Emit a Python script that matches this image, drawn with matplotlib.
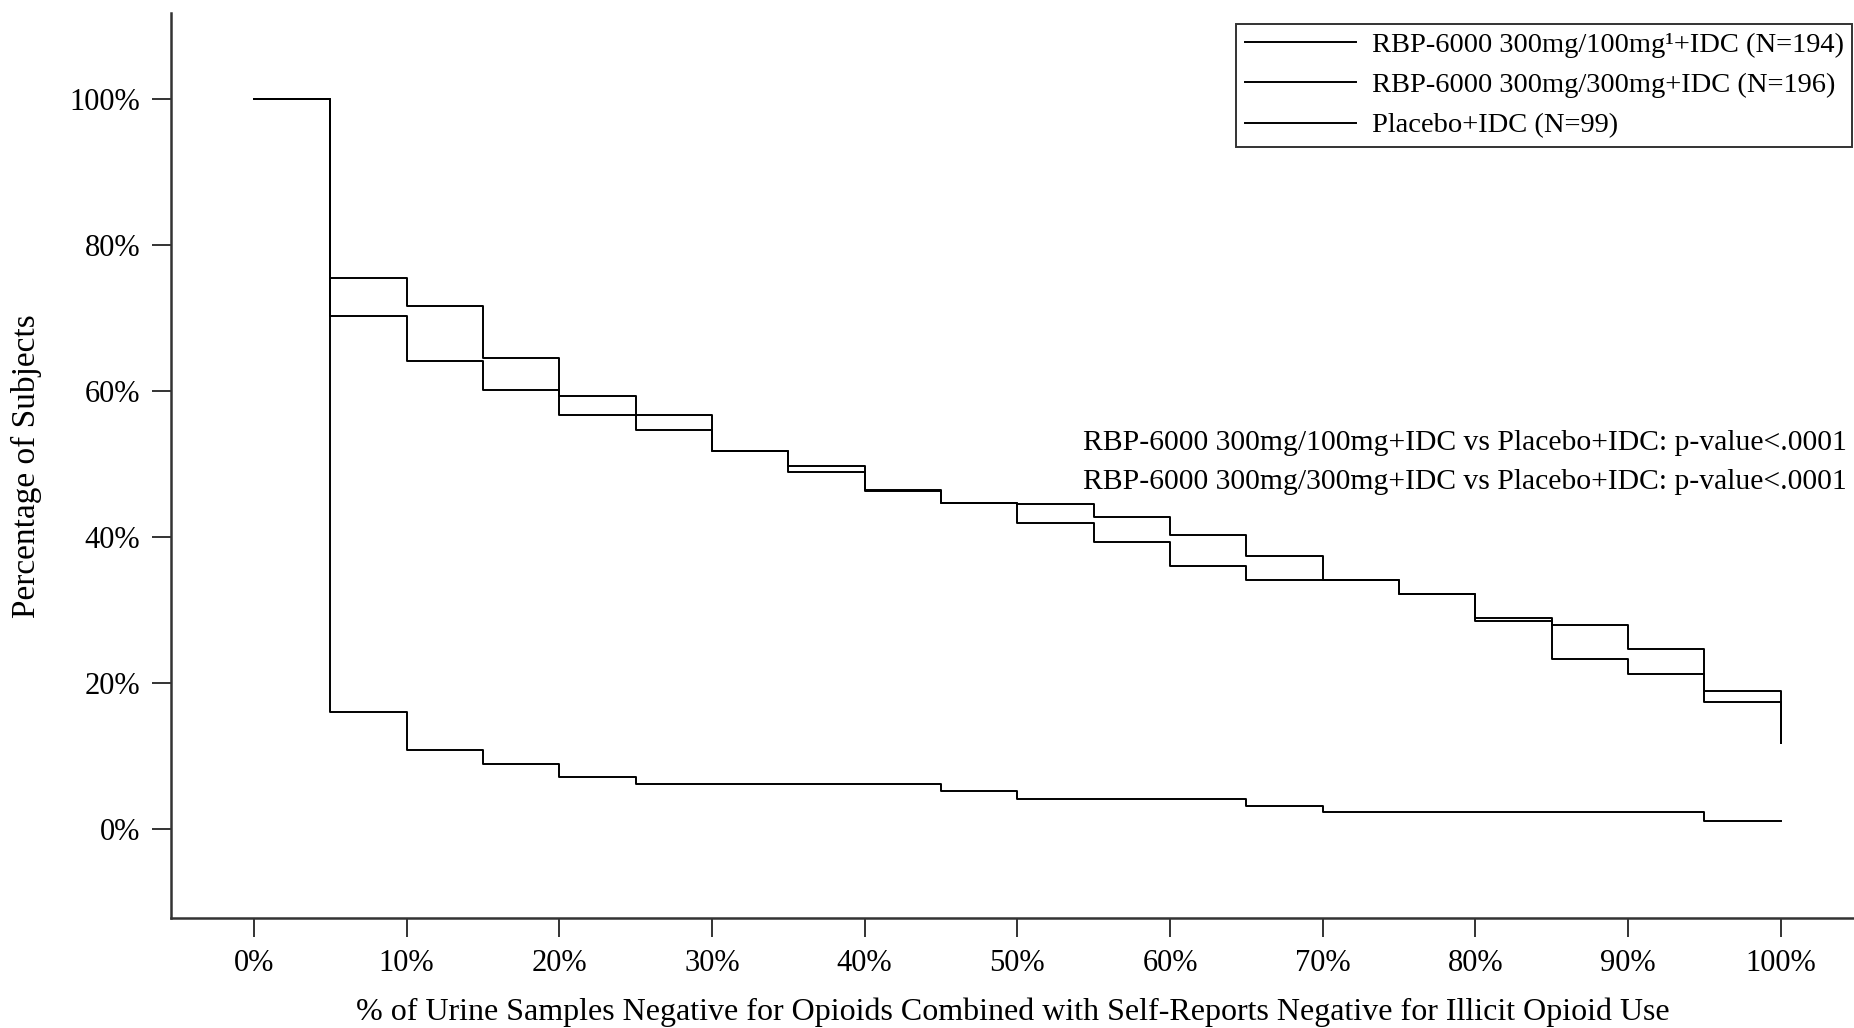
import numpy as np
import matplotlib
matplotlib.use("Agg")
import matplotlib.pyplot as plt

plt.rcParams['font.family'] = ['Liberation Serif', 'DejaVu Serif']

# percent of negative samples (step start points)
pct_neg = [0, 5, 10, 15, 20, 25, 30, 35, 40, 45, 50,
           55, 60, 65, 70, 75, 80, 85, 90, 95, 100]

# percentage of subjects at or above each threshold
rbp_100 = [100, 75.5, 71.7, 64.6, 59.3, 56.8, 51.8, 49.8, 46.5, 44.7, 44.6,
           42.8, 40.3, 37.4, 34.2, 32.3, 29.0, 28.0, 24.7, 18.9, 11.8]
rbp_300 = [100, 70.3, 64.1, 60.2, 56.8, 54.7, 51.8, 48.9, 46.3, 44.7, 42.0,
           39.4, 36.1, 34.2, 34.2, 32.3, 28.5, 23.3, 21.3, 17.5, 11.8]
placebo = [100, 16.1, 10.9, 9.0, 7.1, 6.2, 6.2, 6.2, 6.2, 5.2, 4.2,
           4.2, 4.2, 3.2, 2.3, 2.3, 2.3, 2.3, 2.3, 1.1, 1.1]

labels = ['RBP-6000 300mg/100mg\u00b9+IDC (N=194)',
          'RBP-6000 300mg/300mg+IDC (N=196)',
          'Placebo+IDC (N=99)']
pvals = ['RBP-6000 300mg/100mg+IDC vs Placebo+IDC: p-value<.0001',
         'RBP-6000 300mg/300mg+IDC vs Placebo+IDC: p-value<.0001']

xticks = np.arange(0, 101, 10)
yticks = np.arange(0, 101, 20)

fig = plt.figure(figsize=(18.54, 10.28), dpi=100)
ax = fig.add_axes([0.0921, 0.1067, 0.9079, 0.8804])

lw = 1.4
ax.step(pct_neg, rbp_100, where='post', color='black', lw=lw, label=labels[0])
ax.step(pct_neg, rbp_300, where='post', color='black', lw=lw, label=labels[1])
ax.step(pct_neg, placebo, where='post', color='black', lw=lw, label=labels[2])

ax.set_xlim(-5.45, 104.8)
ax.set_ylim(-12.2, 111.8)
ax.set_xticks(xticks)
ax.set_xticklabels([f'{v}%' for v in xticks])
ax.set_yticks(yticks)
ax.set_yticklabels([f'{v}%' for v in yticks])
ax.tick_params(labelsize=22, length=14, width=1.4, color='#333333', pad=8)

for s in ['top', 'right']:
    ax.spines[s].set_visible(False)
for s in ['left', 'bottom']:
    ax.spines[s].set_linewidth(1.8)
    ax.spines[s].set_color('#333333')

ax.set_xlabel('% of Urine Samples Negative for Opioids Combined with Self-Reports Negative for Illicit Opioid Use',
              fontsize=23, labelpad=14)
ax.set_ylabel('Percentage of Subjects', fontsize=24, labelpad=20)

leg = ax.legend(loc='upper right', bbox_to_anchor=(0.9989, 0.9885), fontsize=20.5,
                handlelength=3.9, handletextpad=0.55, frameon=True, fancybox=False,
                edgecolor='black', borderaxespad=0, labelspacing=0.5, borderpad=0.3)
leg.get_frame().set_linewidth(1.4)

ax.text(0.9957, 0.525, pvals[0], transform=ax.transAxes, ha='right', va='center', fontsize=21.3)
ax.text(0.9957, 0.482, pvals[1], transform=ax.transAxes, ha='right', va='center', fontsize=21.3)

fig.savefig('out.png', dpi=100)
